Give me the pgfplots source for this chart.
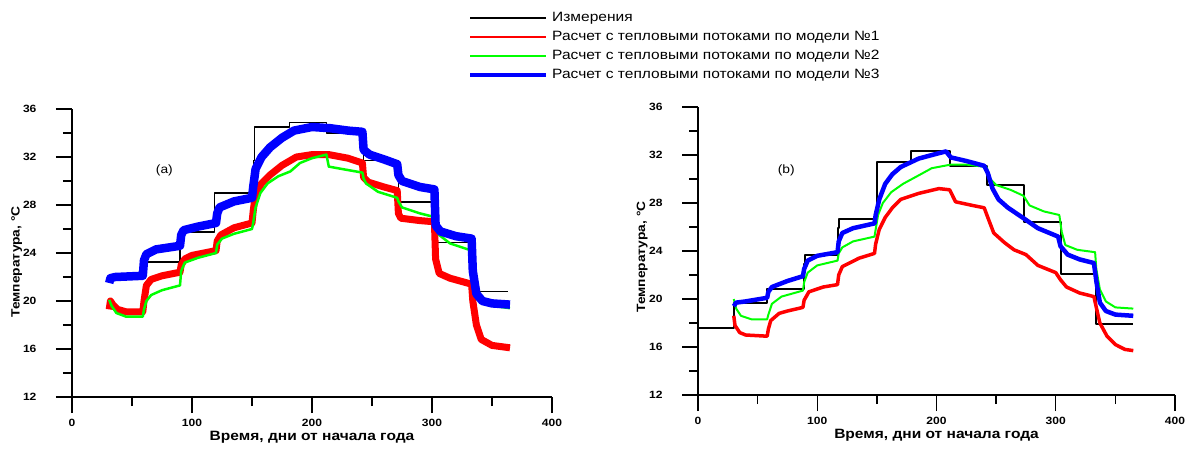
\documentclass[border=0pt]{standalone}
\usepackage{fontspec}
\setmainfont[FakeStretch=1.15]{Liberation Sans}
\usepackage{pgfplots}
\pgfplotsset{compat=1.18}

\pgfplotsset{
  panel/.style={
    scale only axis,
    xmin=0, xmax=400, ymin=12, ymax=36,
    axis x line*=bottom, axis y line*=left,
    axis line style={-, line width=1.3pt},
    xtick={0,100,200,300,400}, ytick={12,16,20,24,28,32,36},
    minor x tick num=1, minor y tick num=1,
    tick align=outside,
    major tick length=16pt, minor tick length=9pt,
    every tick/.style={black, line width=1.3pt},
    /pgf/number format/assume math mode=true,
    ticklabel style={font=\bfseries\fontsize{10.5}{12}\selectfont},
    yticklabel shift=16pt, xticklabel shift=3pt,
    label style={font=\bfseries\fontsize{13.5}{15}\selectfont},
    xlabel={Время, дни от начала года},
    ylabel={Температура, °C},
    xlabel style={at={(rel axis cs:0.5,-0.139)}, anchor=center},
    line join=round,
  },
}

\begin{document}
\begin{tikzpicture}
\useasboundingbox (0pt,0pt) rectangle (1194pt,448pt);

% ---- (a) ----
\begin{axis}[panel,
  at={(72pt,51pt)}, anchor=south west, width=480pt, height=288pt,
  ylabel style={at={(rel axis cs:-0.115,0.469)}, anchor=center, font=\bfseries\fontsize{12}{14}\selectfont},
  legend style={at={(rel axis cs:0.825,1.35)}, anchor=north west,
    draw=none, fill=none, inner sep=0pt,
    font=\fontsize{13.5}{15}\selectfont, row sep=0pt,
    nodes={inner xsep=4pt, inner ysep=2pt, text height=11pt, text depth=4pt}},
  legend cell align=left,
  legend image code/.code={\draw[#1] (0pt,0pt) -- (76pt,0pt);},
]
\addlegendimage{black, line width=1.3pt}
\addlegendentry{Измерения}
\addlegendimage{red, line width=2pt}
\addlegendentry{Расчет с тепловыми потоками по модели №1}
\addlegendimage{green, line width=2pt}
\addlegendentry{Расчет с тепловыми потоками по модели №2}
\addlegendimage{blue, line width=4pt}
\addlegendentry{Расчет с тепловыми потоками по модели №3}

\addplot[forget plot, black, line width=1.3pt] coordinates {
(31,22.0)(59,22.0)(59,23.25)(90,23.25)(90,25.75)(119,25.75)(119,29.0)(151,29.0)
(151,31.7)(152,31.7)(152,34.5)(181,34.5)(181,34.9)(212,34.9)(212,34.0)(243,34.0)
(243,31.7)(272,31.7)(272,28.25)(302,28.25)(302,24.9)(333,24.9)(333,20.8)(363,20.8)};
\addplot[forget plot, red, line width=7pt] coordinates {
(31,19.3)(32,20.0)(34,19.7)(38,19.3)(45,19.1)(59,19.1)(60,20.0)(62,21.3)(66,21.8)
(75,22.1)(90,22.4)(91,23.0)(94,23.5)(100,23.8)(110,24.0)(120,24.2)(121,25.0)
(124,25.5)(135,26.1)(150,26.5)(151,27.5)(153,29.0)(158,29.8)(165,30.5)(175,31.3)
(187,32.0)(200,32.2)(214,32.2)(230,31.9)(242,31.5)(243,30.3)(247,29.9)(260,29.5)
(271,29.2)(272,27.3)(274,26.9)(290,26.7)(302,26.6)(303,23.5)(306,22.3)(315,21.9)
(333,21.4)(334,20.0)(337,18.0)(341,16.8)(350,16.3)(365,16.1)};
\addplot[forget plot, green, line width=2.5pt] coordinates {
(31,20.1)(33,19.6)(37,19.0)(45,18.7)(59,18.7)(60,19.3)(62,20.0)(66,20.5)(75,20.9)
(90,21.3)(91,22.5)(94,23.2)(105,23.6)(120,24.0)(121,24.7)(125,25.2)(135,25.6)
(150,26.0)(151,26.5)(153,27.8)(157,29.0)(163,29.8)(172,30.4)(182,30.8)(190,31.5)
(200,31.9)(212,32.2)(214,31.2)(225,31.0)(242,30.7)(243,30.2)(245,29.8)(255,29.1)
(271,28.6)(272,28.3)(275,27.8)(290,27.3)(302,27.0)(303,26.3)(306,25.5)(315,24.8)
(333,24.2)(334,22.5)(337,20.6)(342,20.0)(350,19.6)(365,19.4)};
\addplot[forget plot, blue, line width=8.5pt] coordinates {
(31,21.5)(32,21.9)(36,22.0)(59,22.1)(60,23.4)(62,23.9)(70,24.3)(90,24.6)(91,25.5)
(93,25.9)(105,26.2)(120,26.5)(121,27.3)(123,27.8)(135,28.3)(150,28.6)(151,29.5)
(153,31.0)(158,32.0)(165,32.8)(175,33.6)(185,34.2)(200,34.5)(215,34.4)(230,34.2)
(242,34.1)(243,32.6)(248,32.2)(260,31.8)(271,31.4)(272,30.5)(275,30.0)(290,29.5)
(302,29.3)(303,26.3)(307,25.8)(320,25.4)(333,25.2)(334,22.5)(337,20.6)(342,20.0)
(350,19.8)(365,19.7)};
\node[font=\fontsize{12}{14}\selectfont] at (axis cs:77,30.9) {(a)};
\end{axis}

% ---- (b) ----
\begin{axis}[panel,
  at={(698pt,53pt)}, anchor=south west, width=477pt, height=288pt,
  ylabel style={at={(rel axis cs:-0.117,0.479)}, anchor=center, font=\bfseries\fontsize{12}{14}\selectfont},
]
\addplot[black, line width=2pt] coordinates {
(0,17.6)(30,17.6)(30,19.7)(58,19.7)(58,20.8)(89,20.8)(89,22.9)(90,22.9)(90,23.7)
(117,23.7)(117,25.9)(118,25.9)(118,26.7)(149,26.7)(149,27.5)(150,27.5)(150,31.4)
(179,31.4)(179,32.3)(211,32.3)(211,31.1)(242,31.1)(242,29.5)(273,29.5)(273,26.4)
(304,26.4)(304,22.1)(334,22.1)(334,17.9)(365,17.9)};
\addplot[red, line width=3.5pt] coordinates {
(30,18.6)(31,17.8)(35,17.2)(40,17.0)(58,16.9)(59,17.5)(61,18.2)(68,18.8)(75,19.0)
(88,19.3)(89,19.9)(93,20.6)(105,21.0)(117,21.2)(118,22.0)(121,22.7)(135,23.4)
(148,23.8)(149,24.6)(152,25.8)(157,26.8)(163,27.6)(170,28.3)(185,28.8)(202,29.2)
(211,29.1)(216,28.1)(230,27.8)(240,27.6)(243,26.8)(248,25.5)(257,24.7)(265,24.1)
(275,23.7)(285,22.8)(300,22.2)(304,21.6)(309,21.0)(320,20.5)(332,20.2)(334,19.3)
(337,18.0)(343,16.9)(350,16.2)(358,15.8)(365,15.7)};
\addplot[green, line width=2pt] coordinates {
(30,20.0)(32,19.2)(36,18.6)(45,18.3)(58,18.3)(59,18.7)(62,19.6)(70,20.2)(88,20.7)
(89,21.4)(92,22.2)(100,22.8)(117,23.2)(118,23.8)(121,24.3)(130,24.8)(148,25.2)
(149,25.8)(151,27.0)(155,28.0)(162,28.9)(172,29.6)(185,30.3)(196,30.9)(212,31.2)
(225,31.2)(242,31.0)(245,30.0)(250,29.5)(262,29.1)(273,28.6)(278,27.8)(290,27.3)
(303,27.0)(305,25.6)(308,24.5)(318,24.1)(333,23.9)(334,22.5)(337,20.8)(342,19.8)
(350,19.3)(365,19.2)};
\addplot[blue, line width=4.5pt] coordinates {
(30,19.4)(32,19.7)(40,19.8)(58,20.1)(59,20.6)(62,21.0)(75,21.5)(88,21.9)(89,22.5)
(92,23.2)(100,23.6)(117,23.9)(118,24.8)(121,25.5)(130,25.9)(148,26.3)(149,27.0)
(152,28.3)(157,29.6)(163,30.4)(170,31.0)(185,31.7)(200,32.1)(208,32.3)(212,31.8)
(225,31.5)(240,31.1)(243,30.5)(247,29.2)(252,28.3)(260,27.6)(272,26.8)(285,25.9)
(302,25.2)(304,24.4)(310,23.7)(320,23.3)(332,23.0)(334,21.5)(337,19.7)(342,19.0)
(350,18.7)(365,18.6)};
\node[font=\fontsize{12}{14}\selectfont] at (axis cs:74,30.75) {(b)};
\end{axis}
\end{tikzpicture}
\end{document}
